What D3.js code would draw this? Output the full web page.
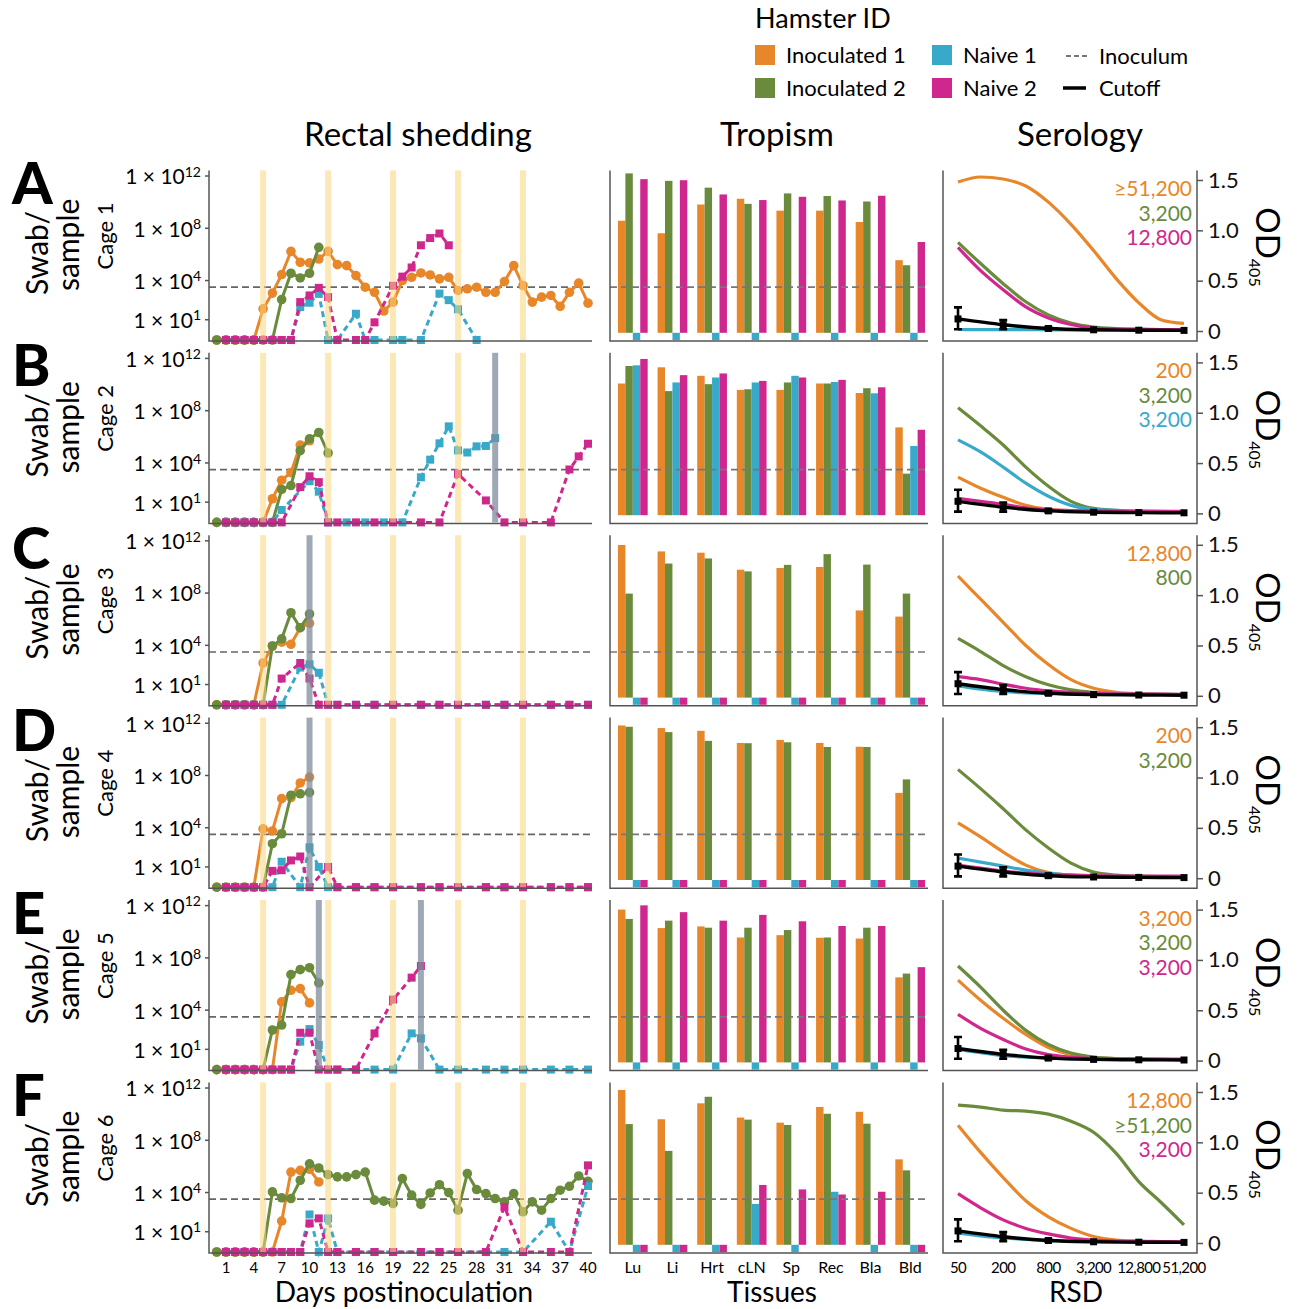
<!DOCTYPE html>
<html>
<head>
<meta charset="utf-8">
<script src="https://cdn.jsdelivr.net/npm/d3@7"></script>
<style>
	body { margin: 0; background: #fff; }
	svg { font-family: Lato, "Open Sans", sans-serif; }
</style>
</head>
<body>
<div id="chart"></div>
<script>
// Hamsters and colours
const hamsters = ["Inoculated 1", "Inoculated 2", "Naive 1", "Naive 2"];
const hamsterColors = ["#E8862A", "#6A8B3C", "#39A9C9", "#D0278E"];
const cageLetters = ["A", "B", "C", "D", "E", "F"];
const cageNames = ["Cage 1", "Cage 2", "Cage 3", "Cage 4", "Cage 5", "Cage 6"];

// not detected
const ND = null;
function nd(days) {
	return days.map((d) => [d, ND]);
}

// Rectal shedding, log10 copies per swab, [day, value]
const dayTicks = [1, 4, 7, 10, 13, 16, 19, 22, 25, 28, 31, 34, 37, 40];
const cageChangeDays = [5, 12, 19, 26, 33];
const euthanasiaDays = [[], [30], [10], [10], [11, 22], []];
const inoculumLog = 3.49;

const shedCage1 = [
	[...nd([0, 1, 2, 3, 4]), [5, 1.84], [6, 3.04], [7, 4.46], [8, 6.23], [9, 5.4], [10, 5.35], [11, 5.65], [12, 6.23], [13, 5.22], [14, 5.14], [15, 4.38], [16, 3.49], [17, 3.1], [18, 1.67], [19, 2.35], [20, 4.0], [21, 4.25], [22, 4.58], [23, 4.43], [24, 4.13], [25, 4.25], [26, 3.24], [27, 3.37], [28, 3.49], [29, 3.1], [30, 3.1], [31, 3.92], [32, 5.14], [33, 3.62], [34, 2.35], [35, 2.73], [36, 2.86], [37, 2.02], [38, 3.1], [39, 3.8], [40, 2.27]],
	[...nd([0, 1, 2, 3, 4, 5, 6]), [7, 2.55], [8, 4.56], [9, 4.2], [10, 4.56], [11, 6.54]],
	[...nd([1, 2, 3, 4, 5, 6, 7, 8]), [9, 1.97], [10, 2.3], [11, 2.98], ...nd([12, 13]), [15, 1.46], ...nd([16, 17, 19, 20, 22]), [24, 3.0], [25, 2.5], [26, 1.8], [28, ND]],
	[...nd([1, 2, 3, 4, 5, 6, 7, 8]), [9, 2.35], [10, 2.86], [11, 3.44], [12, 2.73], ...nd([13, 15, 16]), [17, 0.8], [19, 3.6], [20, 4.3], [21, 5.0], [22, 6.7], [23, 7.25], [24, 7.6], [25, 6.7]],
];
const shedCage2 = [
	[...nd([0, 1, 2, 3, 4, 5]), [6, 1.26], [7, 2.68], [8, 3.26], [9, 5.37], [10, 5.7]],
	[...nd([0, 1, 2, 3, 4, 5, 6]), [7, 1.97], [8, 2.27], [9, 4.94], [10, 5.85], [11, 6.33], [12, 4.76]],
	[...nd([1, 2, 3, 4, 5, 6]), [7, 0.4], [10, 2.6], [11, 1.8], ...nd([12, 14, 16, 18, 20]), [22, 2.9], [23, 4.25], [24, 5.5], [25, 6.8], [26, 4.96], [27, 4.8], [28, 5.27], [29, 5.3], [30, 5.9]],
	[...nd([1, 2, 3, 4, 5, 6, 7]), [9, 2.15], [10, 2.98], [11, 2.53], ...nd([12, 13, 15, 17, 19, 22, 24]), [26, 3.16], [29, 1.13], ...nd([31, 33, 36]), [38, 3.5], [39, 4.5], [40, 5.47]],
];
const shedCage3 = [
	[...nd([0, 1, 2, 3, 4]), [5, 2.65], [6, 3.95], [7, 4.25], [8, 4.08], [9, 5.35], [10, 5.7]],
	[...nd([0, 1, 2, 3, 4, 5]), [6, 3.95], [7, 4.5], [8, 6.5], [9, 5.35], [10, 6.4]],
	[...nd([1, 2, 3, 4, 5, 6, 7]), [9, 2.3], [10, 2.55], [11, 1.9], ...nd([12, 13, 15, 17, 19, 22, 24, 26, 29, 31, 33, 36, 38, 40])],
	[...nd([1, 2, 3, 4, 5, 6]), [7, 1.46], [9, 2.65], [10, 1.46], ...nd([11, 12, 13, 15, 17, 19, 22, 24, 26, 29, 31, 33, 36, 38, 40])],
];
const shedCage4 = [
	[...nd([0, 1, 2, 3, 4]), [5, 3.92], [6, 3.75], [7, 6.23], [8, 6.3], [9, 7.43], [10, 7.88]],
	[...nd([0, 1, 2, 3, 4, 5]), [6, 2.78], [7, 3.54], [8, 6.49], [9, 6.6], [10, 6.7]],
	[...nd([1, 2, 3, 4, 5, 6]), [7, 1.4], [9, ND], [10, 2.5], [11, 1.0], ...nd([12, 13, 15, 17, 19, 22, 24, 26, 29, 31, 33, 36, 38, 40])],
	[...nd([1, 2, 3, 4, 5]), [6, 0.7], [7, 0.75], [8, 1.5], [9, 1.8], [10, ND], [12, 1.0], ...nd([13, 15, 17, 19, 22, 24, 26, 29, 31, 33, 36, 38, 40])],
];
const shedCage5 = [
	[...nd([0, 1, 2, 3, 4, 5, 6]), [7, 4.63], [8, 5.52], [9, 5.65], [10, 4.56]],
	[...nd([0, 1, 2, 3, 4, 5]), [6, 2.48], [7, 2.86], [8, 6.72], [9, 7.1], [10, 7.25], [11, 6.08]],
	[...nd([1, 2, 3, 4, 5, 6, 7, 8]), [9, 1.59], [10, 2.55], [11, 1.33], ...nd([12, 13, 15, 17, 19]), [21, 2.22], [22, 1.84], ...nd([24, 26, 29, 31, 33, 36, 38, 40])],
	[...nd([1, 2, 3, 4, 5, 6, 7, 8]), [9, 2.27], [10, 2.27], ...nd([11, 12, 13, 15]), [17, 2.22], [19, 4.81], [21, 6.49], [22, 7.38]],
];
const shedCage6 = [
	[...nd([0, 1, 2, 3, 4, 5, 6]), [7, 1.82], [8, 5.57], [9, 5.7], [10, 5.78], [11, 4.81]],
	[...nd([0, 1, 2, 3, 4, 5]), [6, 4.05], [7, 3.6], [8, 3.54], [9, 4.94], [10, 6.2], [11, 5.88], [12, 5.37], [13, 5.2], [14, 5.2], [15, 5.37], [16, 5.57], [17, 3.42], [18, 3.34], [19, 3.16], [20, 5.07], [21, 3.8], [22, 3.09], [23, 3.97], [24, 4.6], [25, 4.0], [26, 2.65], [27, 5.45], [28, 4.23], [29, 3.92], [30, 3.54], [31, 3.29], [32, 3.92], [33, 2.53], [34, 3.29], [35, 2.65], [36, 3.54], [37, 4.18], [38, 4.48], [39, 5.27], [40, 4.86]],
	[...nd([1, 2, 3, 4, 5, 6, 7, 8, 9]), [10, 2.32], [11, ND], [12, 2.02], ...nd([13, 15, 17, 19, 22, 24, 26, 29, 31, 33]), [36, 1.77], [38, ND], [40, 4.5]],
	[...nd([1, 2, 3, 4, 5, 6, 7, 8, 9]), [10, 1.64], [11, 2.02], ...nd([12, 13, 15, 17, 19, 22, 24, 26, 29]), [31, 2.9], ...nd([33, 36, 38]), [40, 6.08]],
];
const shedding = [shedCage1, shedCage2, shedCage3, shedCage4, shedCage5, shedCage6];

// Tropism, log10 copies per sample
const tissues = ["Lu", "Li", "Hrt", "cLN", "Sp", "Rec", "Bla", "Bld"];
const allND = [ND, ND, ND, ND, ND, ND, ND, ND];
const tropCage1 = [
	[8.58, 7.62, 9.82, 10.26, 9.35, 9.35, 8.48, 5.56],
	[12.2, 11.63, 11.11, 9.87, 10.67, 10.47, 10.05, 5.17],
	allND,
	[11.76, 11.68, 10.59, 10.16, 10.41, 10.13, 10.49, 6.95],
];
const tropCage2 = [
	[10.08, 11.32, 10.67, 9.59, 9.59, 10.08, 9.35, 6.72],
	[11.42, 9.5, 10.03, 9.64, 10.16, 10.08, 9.72, 3.18],
	[11.47, 10.16, 10.54, 10.16, 10.67, 10.2, 9.33, 5.3],
	[11.96, 10.72, 10.85, 10.28, 10.54, 10.36, 9.79, 6.54],
];
const tropCage3 = [
	[11.68, 11.19, 11.09, 9.79, 9.92, 10.0, 6.67, 6.2],
	[7.96, 10.26, 10.65, 9.66, 10.16, 10.98, 10.18, 7.96],
	allND,
	allND,
];
const tropCage4 = [
	[11.83, 11.63, 11.42, 10.49, 10.72, 10.49, 10.2, 6.67],
	[11.73, 11.32, 10.65, 10.47, 10.54, 10.18, 10.18, 7.7],
	allND,
	allND,
];
const tropCage5 = [
	[11.7, 10.28, 10.41, 9.56, 9.74, 9.54, 9.48, 6.51],
	[10.98, 10.85, 10.31, 10.31, 10.13, 9.56, 10.31, 6.8],
	allND,
	[12.02, 11.5, 10.85, 11.29, 10.8, 10.44, 10.44, 7.29],
];
const tropCage6 = [
	[11.85, 9.61, 10.83, 9.74, 9.35, 10.55, 10.18, 6.54],
	[9.24, 7.19, 11.33, 9.58, 9.17, 10.03, 9.27, 5.7],
	[ND, ND, ND, 3.13, ND, 4.06, ND, ND],
	[ND, ND, ND, 4.58, 4.24, 3.85, 4.06, ND],
];
const tropism = [tropCage1, tropCage2, tropCage3, tropCage4, tropCage5, tropCage6];

// Serology, OD405 against reciprocal serum dilution
const rsdTicks = [50, 200, 800, 3200, 12800, 51200];
const rsdTickLabels = ["50", "200", "800", "3,200", "12,800", "51,200"];
const rsdCurve = [50, 100, 200, 400, 800, 1600, 3200, 6400, 12800, 25600, 51200];
const seroCage1 = [
	[1.48, 1.53, 1.51, 1.44, 1.28, 1.06, 0.8, 0.52, 0.28, 0.11, 0.075],
	[0.88, 0.67, 0.47, 0.29, 0.16, 0.08, 0.04, 0.025, 0.018, 0.015, 0.012],
	[0.015, 0.014, 0.013, 0.013, 0.012, 0.012, 0.011, 0.011, 0.01, 0.01, 0.01],
	[0.83, 0.6, 0.41, 0.24, 0.13, 0.065, 0.03, 0.02, 0.016, 0.014, 0.012],
];
const seroCage2 = [
	[0.36, 0.25, 0.16, 0.08, 0.04, 0.025, 0.02, 0.018, 0.016, 0.015, 0.015],
	[1.05, 0.87, 0.68, 0.46, 0.27, 0.12, 0.05, 0.03, 0.02, 0.018, 0.016],
	[0.73, 0.61, 0.46, 0.3, 0.17, 0.08, 0.04, 0.03, 0.022, 0.02, 0.018],
	[0.15, 0.12, 0.09, 0.055, 0.035, 0.028, 0.024, 0.022, 0.02, 0.02, 0.02],
];
const seroCage3 = [
	[1.19, 0.96, 0.73, 0.5, 0.31, 0.16, 0.075, 0.035, 0.02, 0.015, 0.012],
	[0.57, 0.44, 0.3, 0.19, 0.11, 0.06, 0.035, 0.022, 0.016, 0.013, 0.012],
	[0.1, 0.065, 0.043, 0.03, 0.025, 0.02, 0.018, 0.016, 0.015, 0.014, 0.013],
	[0.19, 0.16, 0.115, 0.075, 0.05, 0.035, 0.025, 0.02, 0.018, 0.016, 0.015],
];
const seroCage4 = [
	[0.55, 0.41, 0.26, 0.13, 0.055, 0.03, 0.02, 0.017, 0.015, 0.014, 0.013],
	[1.08, 0.89, 0.69, 0.48, 0.3, 0.15, 0.06, 0.03, 0.02, 0.015, 0.012],
	[0.2, 0.16, 0.12, 0.08, 0.05, 0.03, 0.022, 0.018, 0.016, 0.015, 0.014],
	[0.13, 0.1, 0.07, 0.05, 0.035, 0.03, 0.025, 0.022, 0.02, 0.02, 0.02],
];
const seroCage5 = [
	[0.8, 0.6, 0.42, 0.26, 0.13, 0.06, 0.03, 0.02, 0.016, 0.014, 0.013],
	[0.94, 0.73, 0.5, 0.3, 0.16, 0.075, 0.035, 0.02, 0.015, 0.012, 0.01],
	[0.11, 0.08, 0.05, 0.035, 0.025, 0.02, 0.016, 0.014, 0.013, 0.012, 0.012],
	[0.46, 0.32, 0.21, 0.115, 0.06, 0.035, 0.02, 0.016, 0.014, 0.013, 0.012],
];
const seroCage6 = [
	[1.17, 0.9, 0.65, 0.42, 0.26, 0.145, 0.065, 0.03, 0.02, 0.015, 0.01],
	[1.37, 1.35, 1.32, 1.31, 1.28, 1.21, 1.1, 0.89, 0.61, 0.4, 0.18],
	[0.1, 0.07, 0.05, 0.035, 0.025, 0.02, 0.016, 0.014, 0.013, 0.012, 0.012],
	[0.49, 0.35, 0.23, 0.145, 0.09, 0.05, 0.03, 0.02, 0.016, 0.014, 0.012],
];
const serology = [seroCage1, seroCage2, seroCage3, seroCage4, seroCage5, seroCage6];

// Cutoff (mean and error range) at the tick dilutions
const cutoffMean = [0.12, 0.062, 0.025, 0.012, 0.008, 0.006];
const cutoffLow = [0.018, 0.018, 0.012, 0.008, 0.006, 0.005];
const cutoffHigh = [0.235, 0.108, 0.04, 0.016, 0.01, 0.007];

// Endpoint titers printed in each serology panel [label, hamster index]
const titers = [
	[["≥51,200", 0], ["3,200", 1], ["12,800", 3]],
	[["200", 0], ["3,200", 1], ["3,200", 2]],
	[["12,800", 0], ["800", 1]],
	[["200", 0], ["3,200", 1]],
	[["3,200", 0], ["3,200", 1], ["3,200", 3]],
	[["12,800", 0], ["≥51,200", 1], ["3,200", 3]],
];

const width = 1304;
const height = 1309;
const rowStep = 182.4;
const axisColor = "#555";

const svg = d3
	.select("#chart")
	.append("svg")
	.attr("width", width)
	.attr("height", height);

// Column titles
[["Rectal shedding", 418], ["Tropism", 777], ["Serology", 1080]].forEach(([t, x]) => {
	svg.append("text")
		.attr("x", x)
		.attr("y", 146)
		.attr("text-anchor", "middle")
		.style("font-size", "33px")
		.text(t);
});

// Legend
const legend = svg.append("g");
legend.append("text").attr("x", 755).attr("y", 28).style("font-size", "27px").text("Hamster ID");
const legendItems = [
	[0, 755, 55], [1, 755, 88], [2, 932, 55], [3, 932, 88],
];
legendItems.forEach(([i, x, y]) => {
	legend.append("rect")
		.attr("x", x).attr("y", y - 10).attr("width", 20).attr("height", 20)
		.attr("fill", hamsterColors[i]);
	legend.append("text")
		.attr("x", x + 31).attr("y", y + 8)
		.style("font-size", "22px")
		.text(hamsters[i]);
});
legend.append("line")
	.attr("x1", 1066).attr("x2", 1089).attr("y1", 56).attr("y2", 56)
	.attr("stroke", "#777").attr("stroke-width", 1.8).attr("stroke-dasharray", "5,3");
legend.append("text").attr("x", 1099).attr("y", 64).style("font-size", "22px").text("Inoculum");
legend.append("line")
	.attr("x1", 1063).attr("x2", 1086).attr("y1", 88).attr("y2", 88)
	.attr("stroke", "#000").attr("stroke-width", 3.5);
legend.append("text").attr("x", 1099).attr("y", 96).style("font-size", "22px").text("Cutoff");

// Shared scales
const xDay = d3.scaleLinear().domain([0, 40]).range([216.7, 588]);
const yLog = d3.scaleLinear().domain([-0.55, 12.43]).range([340, 170.4]);
const yv = (v) => (v === ND ? yLog(-0.55) : yLog(v));

const xTissue = d3.scaleBand().domain(tissues).range([613, 930]).paddingInner(0.25).paddingOuter(0.125);
const xHamster = d3.scaleBand().domain(d3.range(4)).range([0, xTissue.bandwidth()]);

const xRsd = d3.scaleLog().base(2).domain([50, 51200]).range([958, 1184]);
const yOd = d3.scaleLinear().domain([0, 1.5]).range([331, 180]);

function drawRow(r) {
	const g = svg.append("g").attr("transform", `translate(0,${r * rowStep})`);
	const last = r === 5;

	// Row letter and left labels
	g.append("text")
		.attr("x", 12).attr("y", 204)
		.style("font-size", "58px").style("font-weight", 900)
		.text(cageLetters[r]);
	g.append("text")
		.attr("transform", "translate(37,295) rotate(-90)")
		.attr("dy", "0.35em")
		.style("font-size", "30px")
		.text("Swab/");
	g.append("text")
		.attr("transform", "translate(68,291) rotate(-90)")
		.attr("dy", "0.35em")
		.style("font-size", "30px")
		.text("sample");
	g.append("text")
		.attr("transform", "translate(105,236) rotate(-90)")
		.attr("dy", "0.35em")
		.attr("text-anchor", "middle")
		.style("font-size", "22px")
		.text(cageNames[r]);

	// ---- Rectal shedding ----
	const shed = g.append("g");
	[1, 4, 8, 12].forEach((t) => {
		shed.append("line")
			.attr("x1", 205).attr("x2", 209)
			.attr("y1", yLog(t)).attr("y2", yLog(t))
			.attr("stroke", axisColor).attr("stroke-width", 1.5);
		const label = shed.append("text")
			.attr("x", 201).attr("y", yLog(t))
			.attr("dy", "0.4em")
			.attr("text-anchor", "end")
			.style("font-size", "21px");
		label.append("tspan").text("1 × 10");
		label.append("tspan").attr("dy", "-0.55em").style("font-size", "14px").text(t);
	});

	// inoculum level
	shed.append("line")
		.attr("x1", 209).attr("x2", 592)
		.attr("y1", yLog(inoculumLog)).attr("y2", yLog(inoculumLog))
		.attr("stroke", "#666").attr("stroke-width", 1.7).attr("stroke-dasharray", "7,4");

	shedding[r].forEach((series, i) => {
		const line = d3.line().x((d) => xDay(d[0])).y((d) => yv(d[1]));
		shed.append("path")
			.datum(series)
			.attr("d", line)
			.attr("fill", "none")
			.attr("stroke", hamsterColors[i])
			.attr("stroke-width", 3)
			.attr("stroke-dasharray", i >= 2 ? "6,4" : null);
		if (i < 2) {
			shed.selectAll(null)
				.data(series)
				.join("circle")
				.attr("cx", (d) => xDay(d[0]))
				.attr("cy", (d) => yv(d[1]))
				.attr("r", 4.8)
				.attr("fill", hamsterColors[i]);
		} else {
			shed.selectAll(null)
				.data(series)
				.join("rect")
				.attr("x", (d) => xDay(d[0]) - 4)
				.attr("y", (d) => yv(d[1]) - 4)
				.attr("width", 8)
				.attr("height", 8)
				.attr("fill", hamsterColors[i]);
		}
	});

	// cage change and euthanasia bands
	cageChangeDays.forEach((d) => {
		shed.append("rect")
			.attr("x", xDay(d) - 3).attr("width", 6)
			.attr("y", yLog(12.43)).attr("height", yLog(-0.55) - yLog(12.43))
			.attr("fill", "#F9D57A").attr("opacity", 0.55);
	});
	euthanasiaDays[r].forEach((d) => {
		shed.append("rect")
			.attr("x", xDay(d) - 3).attr("width", 6)
			.attr("y", yLog(12.43)).attr("height", yLog(-0.55) - yLog(12.43))
			.attr("fill", "#7F8C9C").attr("opacity", 0.75);
	});

	shed.append("path")
		.attr("d", `M209,${yLog(12.43)}V${yLog(-0.55) + 1}H592`)
		.attr("fill", "none").attr("stroke", axisColor).attr("stroke-width", 1.5);

	if (last) {
		dayTicks.forEach((d) => {
			shed.append("text")
				.attr("x", xDay(d)).attr("y", 361)
				.attr("text-anchor", "middle")
				.style("font-size", "15px")
				.text(d);
		});
	}

	// ---- Tropism ----
	const trop = g.append("g");
	tissues.forEach((t, ti) => {
		tropism[r].forEach((vals, i) => {
			const v = vals[ti];
			const x0 = xTissue(t) + xHamster(i);
			const y0 = v === ND ? yLog(0) : yLog(v);
			const y1 = v === ND ? yLog(-0.55) : yLog(0);
			trop.append("rect")
				.attr("x", x0).attr("width", xHamster.bandwidth())
				.attr("y", y0).attr("height", y1 - y0)
				.attr("fill", hamsterColors[i]);
		});
	});
	trop.append("line")
		.attr("x1", 610).attr("x2", 928)
		.attr("y1", yLog(inoculumLog)).attr("y2", yLog(inoculumLog))
		.attr("stroke", "#777").attr("stroke-width", 1.7).attr("stroke-dasharray", "7,4");
	trop.append("path")
		.attr("d", `M610,${yLog(12.43)}V${yLog(-0.55) + 1}H928`)
		.attr("fill", "none").attr("stroke", axisColor).attr("stroke-width", 1.5);
	if (last) {
		tissues.forEach((t) => {
			trop.append("text")
				.attr("x", xTissue(t) + xTissue.bandwidth() / 2).attr("y", 361)
				.attr("text-anchor", "middle")
				.style("font-size", "16px")
				.text(t);
		});
	}

	// ---- Serology ----
	const sero = g.append("g");
	const curve = d3.line()
		.x((d) => xRsd(d[0]))
		.y((d) => yOd(d[1]))
		.curve(d3.curveMonotoneX);
	serology[r].forEach((vals, i) => {
		sero.append("path")
			.datum(rsdCurve.map((x, k) => [x, vals[k]]))
			.attr("d", curve)
			.attr("fill", "none")
			.attr("stroke", hamsterColors[i])
			.attr("stroke-width", 3.2);
	});
	// cutoff with error bars
	sero.append("path")
		.datum(rsdTicks.map((x, k) => [x, cutoffMean[k]]))
		.attr("d", curve)
		.attr("fill", "none")
		.attr("stroke", "#000")
		.attr("stroke-width", 3.4);
	rsdTicks.forEach((x, k) => {
		const cx = xRsd(x);
		if (cutoffHigh[k] - cutoffLow[k] > 0.02) {
			sero.append("path")
				.attr("d", `M${cx - 4},${yOd(cutoffHigh[k])}H${cx + 4}M${cx},${yOd(cutoffHigh[k])}V${yOd(cutoffLow[k])}M${cx - 4},${yOd(cutoffLow[k])}H${cx + 4}`)
				.attr("fill", "none").attr("stroke", "#000").attr("stroke-width", 2.6);
		}
		sero.append("rect")
			.attr("x", cx - 3.5).attr("y", yOd(cutoffMean[k]) - 3.5)
			.attr("width", 7).attr("height", 7)
			.attr("fill", "#000");
	});

	sero.append("path")
		.attr("d", `M943,${yLog(12.43)}V${yLog(-0.55) + 1}H1197V${yLog(12.43)}`)
		.attr("fill", "none").attr("stroke", axisColor).attr("stroke-width", 1.5);
	const odAxis = d3.axisRight(yOd)
		.tickValues([0, 0.5, 1, 1.5])
		.tickSize(6)
		.tickPadding(5)
		.tickFormat((d) => (d === 0 ? "0" : d.toFixed(1)));
	sero.append("g")
		.attr("transform", "translate(1197,0)")
		.call(odAxis)
		.call((a) => a.select(".domain").remove())
		.call((a) => a.selectAll("line").attr("stroke", axisColor).attr("stroke-width", 1.5))
		.call((a) => a.selectAll("text").style("font-size", "22px").attr("fill", "#111").style("font-family", "Lato, sans-serif"));

	titers[r].forEach(([label, i], k) => {
		sero.append("text")
			.attr("x", 1192).attr("y", 196 + k * 24.5)
			.attr("text-anchor", "end")
			.attr("fill", hamsterColors[i])
			.style("font-size", "21px")
			.text(label);
	});

	const od = g.append("text")
		.attr("transform", "translate(1268,247) rotate(90)")
		.attr("text-anchor", "middle")
		.attr("dy", "0.35em")
		.style("font-size", "33px");
	od.append("tspan").text("OD");
	od.append("tspan").attr("dy", "0.45em").style("font-size", "16px").text("405");

	if (last) {
		rsdTicks.forEach((x, k) => {
			sero.append("text")
				.attr("x", xRsd(x)).attr("y", 361)
				.attr("text-anchor", "middle")
				.style("font-size", "15px")
				.style("letter-spacing", "-0.6px")
				.text(rsdTickLabels[k]);
		});
	}
}

d3.range(6).forEach(drawRow);

// Bottom axis titles
[["Days postinoculation", 404], ["Tissues", 772], ["RSD", 1076]].forEach(([t, x]) => {
	svg.append("text")
		.attr("x", x)
		.attr("y", 1302)
		.attr("text-anchor", "middle")
		.style("font-size", "28px")
		.text(t);
});
</script>
</body>
</html>
